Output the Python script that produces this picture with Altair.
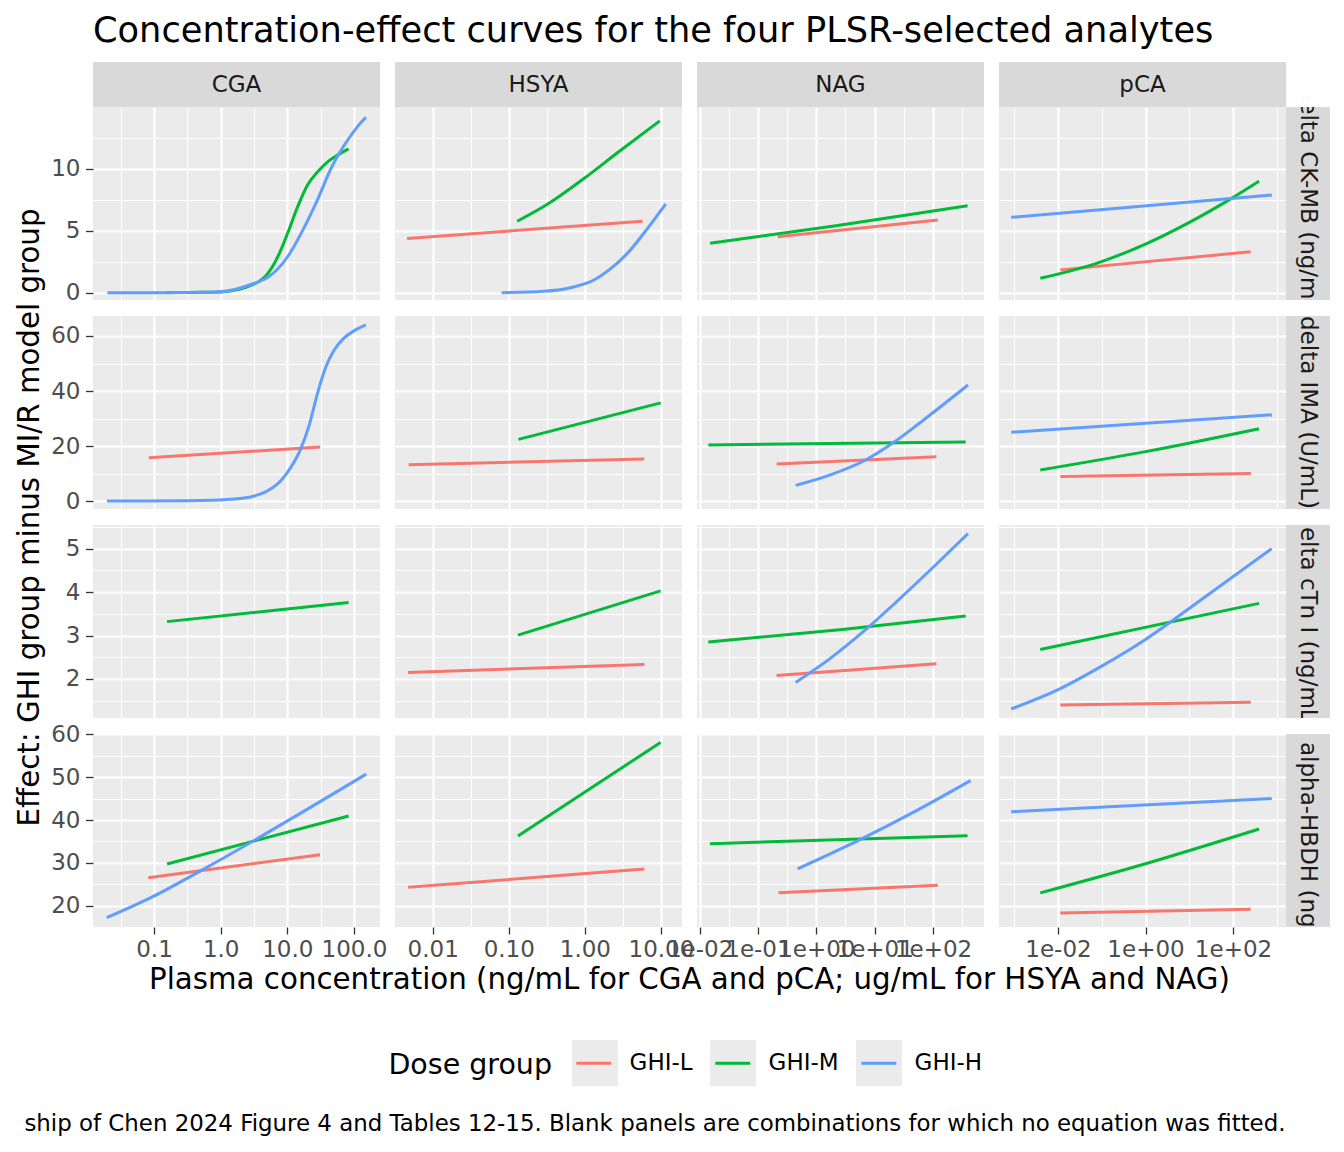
import json
import altair as alt
import pandas as pd

FONT = "DejaVu Sans"

analytes = ["CGA", "HSYA", "NAG", "pCA"]
outcomes = ["delta CK-MB (ng/mL)", "delta IMA (U/mL)", "delta cTn I (ng/mL)", "alpha-HBDH (ng/mL)"]
dose_groups = ["GHI-L", "GHI-M", "GHI-H"]
dose_colors = ["#F8766D", "#00BA38", "#619CFF"]
key_fill = "#EBEBEB"

title_text = "Concentration-effect curves for the four PLSR-selected analytes"
x_title = "Plasma concentration (ng/mL for CGA and pCA; ug/mL for HSYA and NAG)"
y_title = "Effect: GHI group minus MI/R model group"
legend_title = "Dose group"
caption_text = ("ship of Chen 2024 Figure 4 and Tables 12-15. "
                "Blank panels are combinations for which no equation was fitted.")

# ---- x axes (log scale) per analyte column ----
cga_range = [0.01216, 245.5]
hsya_range = [0.0032, 18.9]
nag_range = [0.00902, 748.0]
pca_range = [0.000448, 1626.0]
cga_ticks = [0.1, 1, 10, 100]
hsya_ticks = [0.01, 0.1, 1, 10]
nag_ticks = [0.01, 0.1, 1, 10, 100]
pca_ticks = [0.01, 1, 100]
cga_minor = [0.0316228, 0.316228, 3.16228, 31.6228]
hsya_minor = [0.0316228, 0.316228, 3.16228]
nag_minor = [0.0316228, 0.316228, 3.16228, 31.6228, 316.228]
pca_minor = [0.001, 0.1, 10, 1000]

# ---- y axes per outcome row ----
ckmb_range = [-0.59, 14.98]
ima_range = [-2.9, 67.27]
ctni_range = [1.10, 5.546]
hbdh_range = [15.03, 60.07]
ckmb_ticks = [0, 5, 10]
ima_ticks = [0, 20, 40, 60]
ctni_ticks = [2, 3, 4, 5]
hbdh_ticks = [20, 30, 40, 50, 60]
ckmb_minor = [2.5, 7.5, 12.5]
ima_minor = [10, 30, 50]
ctni_minor = [1.5, 2.5, 3.5, 4.5, 5.5]
hbdh_minor = [25, 35, 45, 55]

# ---- curves: concentration, effect ----
# delta CK-MB
ckmb_cga_m_conc = [0.15, 0.4, 1.0, 3.2, 5.1, 7.2, 10.1, 14.3, 20.1, 28.5, 40.2, 56.8, 83.0]
ckmb_cga_m_eff = [0.0, 0.02, 0.06, 0.70, 1.56, 2.90, 4.79, 6.94, 8.69, 9.76, 10.56, 11.1, 11.6]
ckmb_cga_h_conc = [0.02, 0.1, 0.3, 1.0, 3.2, 5.1, 10.1, 17.0, 28.5, 45.0, 60.0, 85.0, 113.0, 151.0]
ckmb_cga_h_eff = [0.0, 0.0, 0.02, 0.08, 0.76, 1.24, 2.90, 5.03, 7.53, 10.0, 11.24, 12.5, 13.4, 14.15]
ckmb_hsya_l_conc = [0.00461, 5.73]
ckmb_hsya_l_eff = [4.38, 5.76]
ckmb_hsya_m_conc = [0.129, 0.318, 0.962, 2.9, 9.66]
ckmb_hsya_m_eff = [5.76, 7.11, 9.19, 11.45, 13.86]
ckmb_hsya_h_conc = [0.0806, 0.288, 0.711, 1.297, 2.14, 3.54, 5.85, 11.56]
ckmb_hsya_h_eff = [0.0, 0.11, 0.46, 1.0, 1.9, 3.11, 4.73, 7.16]
ckmb_nag_l_conc = [0.218, 121.0]
ckmb_nag_l_eff = [4.52, 5.86]
ckmb_nag_m_conc = [0.0151, 2.17, 392.0]
ckmb_nag_m_eff = [3.98, 5.40, 7.02]
ckmb_pca_l_conc = [0.0113, 254.0]
ckmb_pca_l_eff = [1.84, 3.30]
ckmb_pca_m_conc = [0.00394, 0.0853, 1.0, 9.82, 96.6, 394.0]
ckmb_pca_m_eff = [1.16, 2.43, 3.92, 5.65, 7.65, 9.0]
ckmb_pca_h_conc = [0.000853, 767.0]
ckmb_pca_h_eff = [6.08, 7.89]
# delta IMA
ima_cga_l_conc = [0.0835, 31.1]
ima_cga_l_eff = [15.75, 19.6]
ima_cga_h_conc = [0.0197, 0.32, 1.6, 3.19, 5.07, 8.0, 11.3, 16.0, 21.3, 28.4, 37.9, 50.5, 71.3, 100.7, 151.0]
ima_cga_h_eff = [0.0, 0.1, 0.73, 1.82, 3.75, 7.38, 12.25, 19.16, 27.6, 39.2, 48.8, 54.9, 59.3, 61.9, 64.0]
ima_hsya_l_conc = [0.00484, 6.03]
ima_hsya_l_eff = [13.2, 15.27]
ima_hsya_m_conc = [0.134, 9.93]
ima_hsya_m_eff = [22.4, 35.7]
ima_nag_l_conc = [0.209, 114.0]
ima_nag_l_eff = [13.45, 16.1]
ima_nag_m_conc = [0.0141, 363.0]
ima_nag_m_eff = [20.4, 21.45]
ima_nag_h_conc = [0.443, 1.65, 7.01, 22.9, 85.3, 398.0]
ima_nag_h_eff = [5.7, 9.33, 14.9, 21.8, 31.0, 42.2]
ima_pca_l_conc = [0.0113, 254.0]
ima_pca_l_eff = [8.9, 10.0]
ima_pca_m_conc = [0.00394, 1.0, 394.0]
ima_pca_m_eff = [11.3, 17.96, 26.3]
ima_pca_h_conc = [0.000853, 767.0]
ima_pca_h_eff = [25.0, 31.4]
# delta cTn I
ctni_cga_m_conc = [0.157, 83.0]
ctni_cga_m_eff = [3.32, 3.76]
ctni_hsya_l_conc = [0.00475, 6.06]
ctni_hsya_l_eff = [2.15, 2.33]
ctni_hsya_m_conc = [0.132, 9.87]
ctni_hsya_m_eff = [3.01, 4.03]
ctni_nag_l_conc = [0.209, 114.0]
ctni_nag_l_eff = [2.08, 2.35]
ctni_nag_m_conc = [0.0141, 2.79, 363.0]
ctni_nag_m_eff = [2.85, 3.14, 3.45]
ctni_nag_h_conc = [0.443, 1.65, 6.15, 22.9, 85.3, 398.0]
ctni_nag_h_eff = [1.92, 2.45, 3.07, 3.76, 4.48, 5.35]
ctni_pca_l_conc = [0.0113, 254.0]
ctni_pca_l_eff = [1.40, 1.46]
ctni_pca_m_conc = [0.00394, 394.0]
ctni_pca_m_eff = [2.68, 3.74]
ctni_pca_h_conc = [0.000853, 0.0104, 0.102, 1.0, 23.7, 767.0]
ctni_pca_h_eff = [1.31, 1.76, 2.30, 2.91, 3.9, 5.0]
# alpha-HBDH
hbdh_cga_l_conc = [0.082, 31.0]
hbdh_cga_l_eff = [26.53, 31.9]
hbdh_cga_m_conc = [0.157, 83.0]
hbdh_cga_m_eff = [29.73, 40.93]
hbdh_cga_h_conc = [0.0196, 0.096, 0.522, 152.0]
hbdh_cga_h_eff = [17.2, 22.1, 28.3, 50.7]
hbdh_hsya_l_conc = [0.00475, 6.06]
hbdh_hsya_l_eff = [24.3, 28.56]
hbdh_hsya_m_conc = [0.132, 9.87]
hbdh_hsya_m_eff = [36.27, 58.1]
hbdh_nag_l_conc = [0.225, 121.0]
hbdh_nag_l_eff = [23.03, 24.76]
hbdh_nag_m_conc = [0.015, 391.0]
hbdh_nag_m_eff = [34.47, 36.34]
hbdh_nag_h_conc = [0.478, 5.4, 47.5, 440.0]
hbdh_nag_h_eff = [28.6, 35.3, 41.9, 49.2]
hbdh_pca_l_conc = [0.0113, 254.0]
hbdh_pca_l_eff = [18.3, 19.2]
hbdh_pca_m_conc = [0.00394, 1.0, 394.0]
hbdh_pca_m_eff = [23.0, 29.8, 37.9]
hbdh_pca_h_conc = [0.000853, 767.0]
hbdh_pca_h_eff = [41.9, 45.0]

O1, O2, O3, O4 = outcomes
curves = [
    (O1, "CGA", "GHI-M", ckmb_cga_m_conc, ckmb_cga_m_eff),
    (O1, "CGA", "GHI-H", ckmb_cga_h_conc, ckmb_cga_h_eff),
    (O1, "HSYA", "GHI-L", ckmb_hsya_l_conc, ckmb_hsya_l_eff),
    (O1, "HSYA", "GHI-M", ckmb_hsya_m_conc, ckmb_hsya_m_eff),
    (O1, "HSYA", "GHI-H", ckmb_hsya_h_conc, ckmb_hsya_h_eff),
    (O1, "NAG", "GHI-L", ckmb_nag_l_conc, ckmb_nag_l_eff),
    (O1, "NAG", "GHI-M", ckmb_nag_m_conc, ckmb_nag_m_eff),
    (O1, "pCA", "GHI-L", ckmb_pca_l_conc, ckmb_pca_l_eff),
    (O1, "pCA", "GHI-M", ckmb_pca_m_conc, ckmb_pca_m_eff),
    (O1, "pCA", "GHI-H", ckmb_pca_h_conc, ckmb_pca_h_eff),
    (O2, "CGA", "GHI-L", ima_cga_l_conc, ima_cga_l_eff),
    (O2, "CGA", "GHI-H", ima_cga_h_conc, ima_cga_h_eff),
    (O2, "HSYA", "GHI-L", ima_hsya_l_conc, ima_hsya_l_eff),
    (O2, "HSYA", "GHI-M", ima_hsya_m_conc, ima_hsya_m_eff),
    (O2, "NAG", "GHI-L", ima_nag_l_conc, ima_nag_l_eff),
    (O2, "NAG", "GHI-M", ima_nag_m_conc, ima_nag_m_eff),
    (O2, "NAG", "GHI-H", ima_nag_h_conc, ima_nag_h_eff),
    (O2, "pCA", "GHI-L", ima_pca_l_conc, ima_pca_l_eff),
    (O2, "pCA", "GHI-M", ima_pca_m_conc, ima_pca_m_eff),
    (O2, "pCA", "GHI-H", ima_pca_h_conc, ima_pca_h_eff),
    (O3, "CGA", "GHI-M", ctni_cga_m_conc, ctni_cga_m_eff),
    (O3, "HSYA", "GHI-L", ctni_hsya_l_conc, ctni_hsya_l_eff),
    (O3, "HSYA", "GHI-M", ctni_hsya_m_conc, ctni_hsya_m_eff),
    (O3, "NAG", "GHI-L", ctni_nag_l_conc, ctni_nag_l_eff),
    (O3, "NAG", "GHI-M", ctni_nag_m_conc, ctni_nag_m_eff),
    (O3, "NAG", "GHI-H", ctni_nag_h_conc, ctni_nag_h_eff),
    (O3, "pCA", "GHI-L", ctni_pca_l_conc, ctni_pca_l_eff),
    (O3, "pCA", "GHI-M", ctni_pca_m_conc, ctni_pca_m_eff),
    (O3, "pCA", "GHI-H", ctni_pca_h_conc, ctni_pca_h_eff),
    (O4, "CGA", "GHI-L", hbdh_cga_l_conc, hbdh_cga_l_eff),
    (O4, "CGA", "GHI-M", hbdh_cga_m_conc, hbdh_cga_m_eff),
    (O4, "CGA", "GHI-H", hbdh_cga_h_conc, hbdh_cga_h_eff),
    (O4, "HSYA", "GHI-L", hbdh_hsya_l_conc, hbdh_hsya_l_eff),
    (O4, "HSYA", "GHI-M", hbdh_hsya_m_conc, hbdh_hsya_m_eff),
    (O4, "NAG", "GHI-L", hbdh_nag_l_conc, hbdh_nag_l_eff),
    (O4, "NAG", "GHI-M", hbdh_nag_m_conc, hbdh_nag_m_eff),
    (O4, "NAG", "GHI-H", hbdh_nag_h_conc, hbdh_nag_h_eff),
    (O4, "pCA", "GHI-L", hbdh_pca_l_conc, hbdh_pca_l_eff),
    (O4, "pCA", "GHI-M", hbdh_pca_m_conc, hbdh_pca_m_eff),
    (O4, "pCA", "GHI-H", hbdh_pca_h_conc, hbdh_pca_h_eff),
]

records = []
for outcome, analyte, group, xs, ys in curves:
    for xv, yv in zip(xs, ys):
        records.append({"outcome": outcome, "analyte": analyte, "group": group,
                        "conc": xv, "effect": yv})
data = pd.DataFrame(records)

EXP_LABEL = ("'1e' + (datum.value < 1 ? '-' : '+') + "
             "(abs(round(log(datum.value) / LN10)) < 10 ? '0' : '') + "
             "abs(round(log(datum.value) / LN10))")
x_spec = {
    "CGA": (cga_range, cga_ticks, cga_minor, "format(datum.value, '.1f')"),
    "HSYA": (hsya_range, hsya_ticks, hsya_minor, "format(datum.value, '.2f')"),
    "NAG": (nag_range, nag_ticks, nag_minor, EXP_LABEL),
    "pCA": (pca_range, pca_ticks, pca_minor, EXP_LABEL),
}
y_spec = [
    (ckmb_range, ckmb_ticks, ckmb_minor),
    (ima_range, ima_ticks, ima_minor),
    (ctni_range, ctni_ticks, ctni_minor),
    (hbdh_range, hbdh_ticks, hbdh_minor),
]

PW, PH = 287, 193      # panel size
GAP_W, GAP_H = 15, 16  # panel spacing
STRIP_H, STRIP_W = 45, 44

TICK_FS = 23
AXIS_TITLE_FS = 29.3
LEGEND_TITLE_FS = 28.5
MAJOR_W, MINOR_W = 2.2, 1.1
LEG_X, LEG_Y = 295.4, 978
KEY_OFFSETS = [183.6, 321.6, 467.6]   # left edge of each key box within the legend

# coloured line keys (one legend, drawn on top)
line_legend = alt.Legend(
    title=legend_title, orient="none", legendX=LEG_X, legendY=LEG_Y,
    direction="horizontal", titleOrient="left", titleAnchor="middle",
    titleBaseline="middle", titleFont=FONT, titleFontSize=LEGEND_TITLE_FS,
    titleFontWeight="normal", titleColor="black", titlePadding=18.4, titleLimit=400,
    labelFont=FONT, labelFontSize=TICK_FS, labelColor="black", labelOffset=12.8,
    columnPadding=12, padding=0, symbolOpacity=1,
    symbolType="M-1,-1M1,1M-0.814,0H0.814", symbolSize=1849, symbolStrokeWidth=3,
    zindex=2,
)


def box_legend(i, cell_x):
    # grey square behind key i; its legend lives in the view whose left edge is cell_x
    return alt.Legend(
        title=None, orient="none", legendX=LEG_X + KEY_OFFSETS[i] - cell_x, legendY=LEG_Y,
        direction="horizontal", symbolType="square", symbolSize=2116,
        symbolStrokeWidth=0, symbolOpacity=1, labelExpr="''", padding=0, zindex=1,
    )


def grid_props(test):
    return dict(
        grid=True, gridColor="white", gridOpacity=1,
        gridWidth={"condition": {"test": test, "value": MAJOR_W}, "value": MINOR_W},
        domain=False, labelOverlap=False, labelFlush=False,
    )


def make_panel(ri, ci):
    outcome, analyte = outcomes[ri], analytes[ci]
    sub = data[(data["outcome"] == outcome) & (data["analyte"] == analyte)]
    xr, xmaj, xmin, xfmt = x_spec[analyte]
    yr, ymaj, ymin = y_spec[ri]
    xtest = f"indexof({json.dumps(xmaj)}, datum.value) >= 0"
    ytest = f"indexof({json.dumps(ymaj)}, datum.value) >= 0"

    xkw = dict(values=xmaj + xmin, **grid_props(xtest))
    if ri == 3:
        xkw.update(
            labels=True, ticks=True, labelExpr=f"({xtest}) ? {xfmt} : ''",
            tickColor={"condition": {"test": xtest, "value": "#333333"}, "value": "transparent"},
            tickSize=7, tickWidth=1.3, labelPadding=4.3, labelFont=FONT,
            labelFontSize=TICK_FS, labelColor="#4D4D4D",
        )
        if ci == 0:
            xkw.update(title=x_title, titleX=596, titleY=61.3, titleAlign="center",
                       titleBaseline="alphabetic", titleAngle=0, titleFont=FONT,
                       titleFontSize=AXIS_TITLE_FS, titleFontWeight="normal",
                       titleColor="black", titleLimit=3000)
        elif ci == 3:
            xkw.update(title=caption_text, titleX=286, titleY=203, titleAlign="right",
                       titleBaseline="alphabetic", titleAngle=0, titleFont=FONT,
                       titleFontSize=22.9, titleFontWeight="normal", titleColor="black",
                       titleLimit=3000)
        else:
            xkw.update(title="")
    else:
        xkw.update(labels=False, ticks=False, title="")

    ykw = dict(values=ymaj + ymin, **grid_props(ytest))
    if ci == 0:
        ykw.update(
            labels=True, ticks=True, labelExpr=f"({ytest}) ? format(datum.value, 'd') : ''",
            tickColor={"condition": {"test": ytest, "value": "#333333"}, "value": "transparent"},
            tickSize=7.5, tickWidth=1.3, labelPadding=5.5, labelFont=FONT,
            labelFontSize=TICK_FS, labelColor="#4D4D4D",
        )
        if ri == 1:
            ykw.update(title=y_title, titleX=-64, titleY=201, titleAlign="center",
                       titleBaseline="middle", titleAngle=-90, titleFont=FONT,
                       titleFontSize=AXIS_TITLE_FS, titleFontWeight="normal",
                       titleColor="black", titleLimit=3000)
        else:
            ykw.update(title="")
    else:
        ykw.update(labels=False, ticks=False, title="")

    return alt.Chart(sub).mark_line(strokeWidth=3, interpolate="monotone").encode(
        x=alt.X("conc:Q", scale=alt.Scale(type="log", domain=xr, nice=False),
                axis=alt.Axis(**xkw)),
        y=alt.Y("effect:Q", scale=alt.Scale(domain=yr, nice=False, zero=False),
                axis=alt.Axis(**ykw)),
        color=alt.Color("group:N", scale=alt.Scale(domain=dose_groups, range=dose_colors),
                        legend=line_legend),
    ).properties(width=PW, height=PH,
                 view=alt.ViewBackground(fill="#EBEBEB", strokeWidth=0))


def blank(w, h):
    return alt.Chart(alt.InlineData(values=[])).mark_point().properties(width=w, height=h)


def key_box(i, cell_x, w, h):
    # carries only one grey legend key box; no marks are drawn
    return alt.Chart(alt.InlineData(values=[])).mark_square(filled=True).encode(
        fill=alt.Fill("group:N",
                      scale=alt.Scale(domain=[dose_groups[i]], range=[key_fill]),
                      legend=box_legend(i, cell_x))
    ).properties(width=w, height=h)


def top_strip(label):
    return alt.Chart(pd.DataFrame({"label": [label]})).mark_text(
        font=FONT, fontSize=TICK_FS, color="#1A1A1A", align="center", baseline="middle"
    ).encode(text="label:N").properties(
        width=PW, height=STRIP_H, view=alt.ViewBackground(fill="#D9D9D9", strokeWidth=0))


def right_strip(ri):
    label = outcomes[ri]
    base = alt.Chart(pd.DataFrame({"label": [label]}))
    if ri == 3:
        enc = base.mark_text(font=FONT, fontSize=TICK_FS, color="#1A1A1A", angle=90,
                             align="left", baseline="middle", clip=True
                             ).encode(text="label:N", y=alt.value(8))
    else:
        enc = base.mark_text(font=FONT, fontSize=TICK_FS, color="#1A1A1A", angle=90,
                             align="center", baseline="middle", clip=True
                             ).encode(text="label:N")
    return enc.properties(width=STRIP_W, height=PH,
                          view=alt.ViewBackground(fill="#D9D9D9", strokeWidth=0))


col_widths = [PW, GAP_W, PW, GAP_W, PW, GAP_W, PW, STRIP_W]

cells = []
for ci in range(4):
    cells.append(top_strip(analytes[ci]))
    if ci < 3:
        cells.append(key_box(ci, PW + ci * (PW + GAP_W), GAP_W, STRIP_H))
cells.append(blank(STRIP_W, STRIP_H))

for ri in range(4):
    if ri > 0:
        for w in col_widths:
            cells.append(blank(w, GAP_H))
    for ci in range(4):
        cells.append(make_panel(ri, ci))
        if ci < 3:
            cells.append(blank(GAP_W, PH))
    cells.append(right_strip(ri))

chart = alt.concat(
    *cells, columns=8, spacing=0, bounds="flush", align="each"
).resolve_scale(
    fill="independent"
).properties(
    title=alt.Title(text=title_text, anchor="start", frame="group", fontSize=35.2,
                    font=FONT, fontWeight="normal", color="black",
                    baseline="alphabetic", offset=20, dy=35),
    padding={"left": 6, "top": 5, "right": 5, "bottom": 5},
).configure(font=FONT, background="white").configure_view(strokeWidth=0)

chart.save("out.html", embed_options={"renderer": "svg", "actions": False})
